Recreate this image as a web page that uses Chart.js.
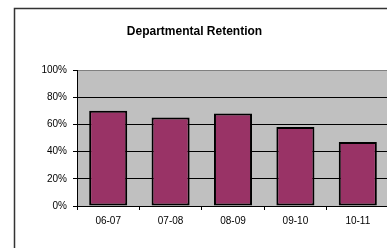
<!DOCTYPE html>
<html>
<head>
<meta charset="utf-8">
<script src="https://cdn.jsdelivr.net/npm/chart.js@4/dist/chart.umd.min.js"></script>
<style>
  html, body { margin: 0; padding: 0; background: #fff; overflow: hidden; }
  canvas { display: block; }
</style>
</head>
<body>
<canvas id="retentionChart" width="392" height="248"></canvas>
<script>
    // Données du graphique
    const years = ['06-07', '07-08', '08-09', '09-10', '10-11'];
    const retention = [70, 65, 68, 58, 47];
    const yTicks = [0, 20, 40, 60, 80, 100];

    // Fond gris de la zone de tracé et cadre du graphique
    const plotBackground = {
        id: 'plotBackground',
        beforeDraw(chart) {
            const ctx = chart.ctx;
            const a = chart.chartArea;
            ctx.save();
            ctx.fillStyle = '#c0c0c0';
            ctx.fillRect(a.left, a.top, a.right - a.left, a.bottom - a.top);
            ctx.strokeStyle = '#808080';
            ctx.lineWidth = 1;
            ctx.beginPath();
            ctx.moveTo(a.left, a.top + 0.5);
            ctx.lineTo(a.right, a.top + 0.5);
            ctx.stroke();
            ctx.strokeStyle = '#333';
            ctx.lineWidth = 1.5;
            ctx.strokeRect(14.5, 8.5, 500, 400);
            ctx.restore();
        }
    };

    const ctx = document.getElementById('retentionChart').getContext('2d');
    new Chart(ctx, {
        type: 'bar',
        data: {
            labels: years,
            datasets: [{
                label: 'Retention',
                data: retention,
                backgroundColor: '#993366',
                borderColor: '#000',
                borderWidth: 2,
                borderSkipped: false,
                barPercentage: 0.61,
                categoryPercentage: 1
            }]
        },
        options: {
            responsive: false,
            animation: false,
            layout: { padding: { left: 0, right: 3, top: 0, bottom: 0 } },
            plugins: {
                legend: { display: false },
                tooltip: { enabled: false },
                title: {
                    display: true,
                    text: 'Departmental Retention',
                    color: '#000',
                    font: { family: 'Liberation Sans, Arial, sans-serif', size: 12, weight: 'bold' },
                    padding: { top: 24, bottom: 31.6 }
                }
            },
            scales: {
                x: {
                    grid: {
                        offset: true,
                        drawOnChartArea: false,
                        color: '#000',
                        tickLength: 4
                    },
                    border: { color: '#000', width: 1 },
                    ticks: {
                        color: '#000',
                        padding: 5,
                        font: { family: 'Liberation Sans, Arial, sans-serif', size: 10 }
                    },
                    afterFit(scale) { scale.height = 42; }
                },
                y: {
                    min: 0,
                    max: 100,
                    afterBuildTicks(scale) {
                        scale.ticks = yTicks.map(v => ({ value: v }));
                    },
                    grid: {
                        color: c => (c.tick && c.tick.value === 100) ? 'rgba(0,0,0,0)' : '#000',
                        tickColor: '#000',
                        tickLength: 4
                    },
                    border: { color: '#000', width: 1 },
                    ticks: {
                        color: '#000',
                        padding: 6,
                        font: { family: 'Liberation Sans, Arial, sans-serif', size: 10 },
                        callback: v => v + '%'
                    },
                    afterFit(scale) { scale.width = 77; }
                }
            }
        },
        plugins: [plotBackground]
    });
</script>
</body>
</html>
